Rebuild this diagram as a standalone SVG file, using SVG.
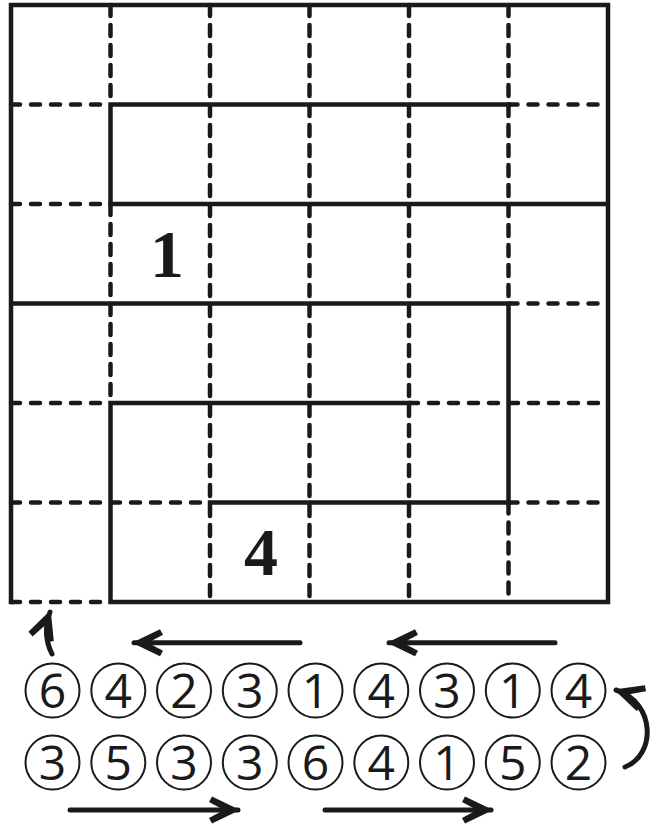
<svg xmlns="http://www.w3.org/2000/svg" width="651" height="825" viewBox="0 0 651 825">
<style>
.s{stroke:#1a1a1a;stroke-width:4.5;fill:none;stroke-linecap:square}
.dh{stroke:#1a1a1a;stroke-width:4.5;fill:none;stroke-linecap:round;stroke-dasharray:9 11}
.dv{stroke:#1a1a1a;stroke-width:4.5;fill:none;stroke-linecap:round;stroke-dasharray:11 9}
.big{font-family:"Liberation Serif",serif;font-weight:bold;font-size:68px;fill:#1a1a1a;text-anchor:middle}
.c{fill:none;stroke:#1a1a1a;stroke-width:2}
.n{font-family:"Open Sans","Noto Sans",sans-serif;font-size:48px;fill:#1a1a1a;text-anchor:middle}
.a{stroke:#1a1a1a;stroke-width:5;fill:none;stroke-linecap:round}
</style>
<defs>
<marker id="ah" markerUnits="userSpaceOnUse" markerWidth="40" markerHeight="40" viewBox="-34 -20 40 40" refX="0" refY="0" orient="auto">
<path d="M2,0 L-26,-13.5 L-29,-8 L-14,0 L-29,8 L-26,13.5 Z" fill="#1a1a1a"/>
</marker>
</defs>
<rect width="651" height="825" fill="#fff"/>
<g id="grid">
<!-- dashed horizontals -->
<path class="dh" d="M11,104.5H110.5 M508.5,104.5H608 M11,204H110.5 M508.5,303.5H608 M11,403H110.5 M409,403H608 M11,502.5H210 M508.5,502.5H608 M11,602H110.5"/>
<!-- dashed verticals -->
<path class="dv" d="M110.5,5V104.5 M110.5,204V403 M210,5V602 M309.5,5V602 M409,5V602 M508.5,5V303.5 M508.5,502.5V602"/>
<!-- solid lines -->
<path class="s" d="M11,5H608V602H110.5 M11,5V602 M110.5,104.5H508.5 M110.5,204H608 M11,303.5H508.5 M110.5,403H409 M210,502.5H508.5 M110.5,104.5V204 M110.5,403V602 M508.5,303.5V502.5"/>
</g>
<g id="label-1"><text class="big" x="167" y="277">1</text></g>
<g id="label-4"><text class="big" x="261" y="575">4</text></g>
<g id="row1">
<g id="r1c1"><circle class="c" cx="52.5" cy="690.5" r="27"/><text class="n" x="52.5" y="708">6</text></g>
<g id="r1c2"><circle class="c" cx="118.3" cy="690.5" r="27"/><text class="n" x="118.3" y="708">4</text></g>
<g id="r1c3"><circle class="c" cx="184" cy="690.5" r="27"/><text class="n" x="184" y="708">2</text></g>
<g id="r1c4"><circle class="c" cx="249.8" cy="690.5" r="27"/><text class="n" x="249.8" y="708">3</text></g>
<g id="r1c5"><circle class="c" cx="315.5" cy="690.5" r="27"/><text class="n" x="315.5" y="708">1</text></g>
<g id="r1c6"><circle class="c" cx="381.3" cy="690.5" r="27"/><text class="n" x="381.3" y="708">4</text></g>
<g id="r1c7"><circle class="c" cx="447" cy="690.5" r="27"/><text class="n" x="447" y="708">3</text></g>
<g id="r1c8"><circle class="c" cx="512.8" cy="690.5" r="27"/><text class="n" x="512.8" y="708">1</text></g>
<g id="r1c9"><circle class="c" cx="578.5" cy="690.5" r="27"/><text class="n" x="578.5" y="708">4</text></g>
</g>
<g id="row2">
<g id="r2c1"><circle class="c" cx="52.5" cy="762.5" r="27"/><text class="n" x="52.5" y="780">3</text></g>
<g id="r2c2"><circle class="c" cx="118.3" cy="762.5" r="27"/><text class="n" x="118.3" y="780">5</text></g>
<g id="r2c3"><circle class="c" cx="184" cy="762.5" r="27"/><text class="n" x="184" y="780">3</text></g>
<g id="r2c4"><circle class="c" cx="249.8" cy="762.5" r="27"/><text class="n" x="249.8" y="780">3</text></g>
<g id="r2c5"><circle class="c" cx="315.5" cy="762.5" r="27"/><text class="n" x="315.5" y="780">6</text></g>
<g id="r2c6"><circle class="c" cx="381.3" cy="762.5" r="27"/><text class="n" x="381.3" y="780">4</text></g>
<g id="r2c7"><circle class="c" cx="447" cy="762.5" r="27"/><text class="n" x="447" y="780">1</text></g>
<g id="r2c8"><circle class="c" cx="512.8" cy="762.5" r="27"/><text class="n" x="512.8" y="780">5</text></g>
<g id="r2c9"><circle class="c" cx="578.5" cy="762.5" r="27"/><text class="n" x="578.5" y="780">2</text></g>
</g>
<g id="connectors">
<path class="a" d="M300,642.7H134" marker-end="url(#ah)"/>
<path class="a" d="M555,642.7H389" marker-end="url(#ah)"/>
<path class="a" d="M70,810H238" marker-end="url(#ah)"/>
<path class="a" d="M325,810H491" marker-end="url(#ah)"/>
<path class="a" d="M52,654 Q42,634 50,612" marker-end="url(#ah)"/>
<path class="a" d="M625,767 C656,755 656,703 616,690" marker-end="url(#ah)"/>
</g>
</svg>
